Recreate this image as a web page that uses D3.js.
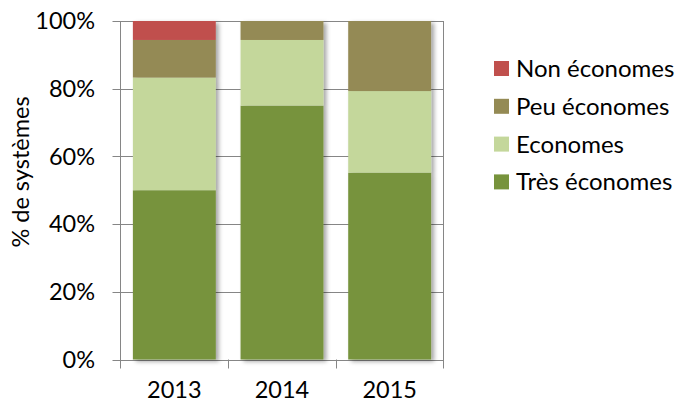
<!DOCTYPE html>
<html>
<head>
<meta charset="utf-8">
<script src="https://d3js.org/d3.v7.min.js"></script>
<style>
  body { margin: 0; background: #ffffff; }
  svg text { font-family: Lato, "Open Sans", sans-serif; fill: #000000; }
  .grid line { stroke: #868686; stroke-width: 1; }
  .tick-label { font-size: 23.5px; }
  .legend-label { font-size: 24px; }
  .axis-title { font-size: 23.5px; }
</style>
</head>
<body>
<script>
const YEARS = ["2013", "2014", "2015"];
const SERIES = ["Très économes", "Economes", "Peu économes", "Non économes"];
const TRES = [50.0, 75.0, 55.2];
const ECONOMES = [33.3, 19.4, 24.1];
const PEU = [11.1, 5.6, 20.7];
const NON = [5.6, 0, 0];
const COLORS = ["#77933C", "#C4D79B", "#948A54", "#C0504D"];
const Y_TICKS = [0, 20, 40, 60, 80, 100];

const W = 682, H = 404;
const PLOT_L = 120.5, PLOT_R = 443.5, PLOT_T = 21, PLOT_B = 359.5;

const rows = YEARS.map((y, i) => ({
  year: y,
  "Très économes": TRES[i],
  "Economes": ECONOMES[i],
  "Peu économes": PEU[i],
  "Non économes": NON[i]
}));

const svg = d3.select("body").append("svg")
  .attr("width", W)
  .attr("height", H);

const defs = svg.append("defs");
const shadow = defs.append("filter")
  .attr("id", "shadow")
  .attr("x", "-10%").attr("y", "-10%")
  .attr("width", "130%").attr("height", "130%");
shadow.append("feDropShadow")
  .attr("dx", 3).attr("dy", 2)
  .attr("stdDeviation", 2)
  .attr("flood-color", "#000000")
  .attr("flood-opacity", 0.35);

const x = d3.scaleBand()
  .domain(YEARS)
  .range([PLOT_L, PLOT_R])
  .paddingInner(0.23)
  .paddingOuter(0.115);

const y = d3.scaleLinear()
  .domain([0, 100])
  .range([PLOT_B, PLOT_T]);

// gridlines + left ticks
const grid = svg.append("g").attr("class", "grid");
grid.selectAll("line.h")
  .data(Y_TICKS)
  .enter().append("line")
  .attr("class", "h")
  .attr("x1", PLOT_L - 8)
  .attr("x2", PLOT_R)
  .attr("y1", d => Math.round(y(d)) + 0.5)
  .attr("y2", d => Math.round(y(d)) + 0.5);

// left axis line and right border
grid.append("line")
  .attr("x1", PLOT_L).attr("x2", PLOT_L)
  .attr("y1", PLOT_T).attr("y2", PLOT_B + 9);
grid.append("line")
  .attr("x1", PLOT_R).attr("x2", PLOT_R)
  .attr("y1", PLOT_T).attr("y2", PLOT_B + 9);

// category tick marks between bands
const step = x.step();
const bandEdges = YEARS.slice(1).map(d => Math.round(x(d) - x.paddingInner() * step / 2) + 0.5);
grid.selectAll("line.v")
  .data(bandEdges)
  .enter().append("line")
  .attr("class", "v")
  .attr("x1", d => d).attr("x2", d => d)
  .attr("y1", PLOT_B).attr("y2", PLOT_B + 9);

// stacked bars
const stack = d3.stack().keys(SERIES);
const layers = stack(rows);

svg.append("g")
  .attr("filter", "url(#shadow)")
  .selectAll("g")
  .data(layers)
  .enter().append("g")
  .attr("fill", (d, i) => COLORS[i])
  .selectAll("rect")
  .data(d => d)
  .enter().append("rect")
  .attr("x", d => x(d.data.year))
  .attr("width", x.bandwidth())
  .attr("y", d => y(d[1]))
  .attr("height", d => y(d[0]) - y(d[1]));

// y tick labels
svg.append("g").selectAll("text")
  .data(Y_TICKS)
  .enter().append("text")
  .attr("class", "tick-label")
  .attr("x", 95)
  .attr("y", d => y(d))
  .attr("dy", "0.35em")
  .attr("text-anchor", "end")
  .text(d => d + "%");

// x labels
svg.append("g").selectAll("text")
  .data(YEARS)
  .enter().append("text")
  .attr("class", "tick-label")
  .attr("x", d => x(d) + x.bandwidth() / 2)
  .attr("y", 398)
  .attr("text-anchor", "middle")
  .text(d => d);

// y axis title
svg.append("text")
  .attr("class", "axis-title")
  .attr("transform", "translate(29,172) rotate(-90)")
  .attr("text-anchor", "middle")
  .text("% de systèmes");

// legend (top-down: reversed series order)
const legendItems = SERIES.slice().reverse();
const legend = svg.append("g").selectAll("g")
  .data(legendItems)
  .enter().append("g")
  .attr("transform", (d, i) => "translate(494," + (61 + i * 37.8) + ")");
legend.append("rect")
  .attr("width", 15)
  .attr("height", 15)
  .attr("fill", d => COLORS[SERIES.indexOf(d)]);
legend.append("text")
  .attr("class", "legend-label")
  .attr("x", 22)
  .attr("y", 7.5)
  .attr("dy", "0.35em")
  .text(d => d);
</script>
</body>
</html>
